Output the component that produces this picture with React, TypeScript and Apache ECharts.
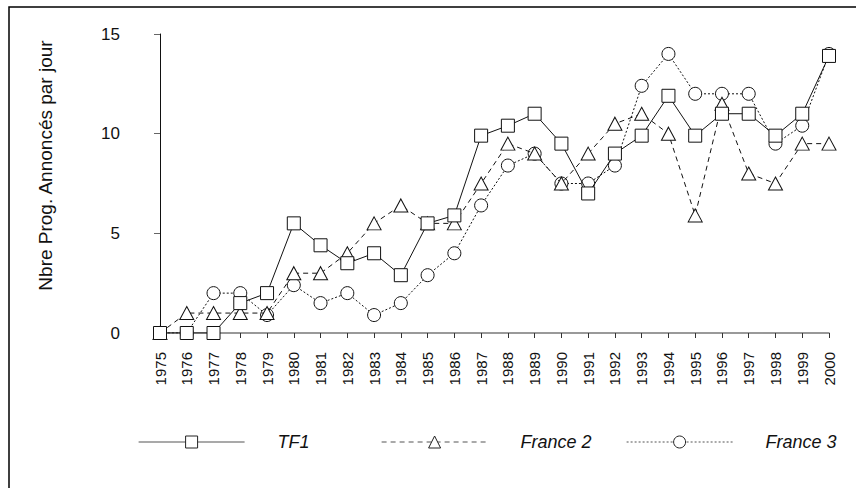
import React, { useEffect, useRef } from 'react';
import * as echarts from 'echarts';

const years = ['1975','1976','1977','1978','1979','1980','1981','1982','1983','1984','1985','1986','1987','1988','1989','1990','1991','1992','1993','1994','1995','1996','1997','1998','1999','2000'];
const tf1 = [0,0,0,1.5,2,5.5,4.4,3.5,4,2.9,5.5,5.9,9.9,10.4,11,9.5,7,9,9.9,11.9,9.9,11,11,9.9,11,13.9];
const france2 = [0,1,1,1,1,3,3,4,5.5,6.4,5.5,5.5,7.5,9.5,9,7.5,9,10.5,11,10,5.9,11.5,8,7.5,9.5,9.5];
const france3 = [0,0,2,2,0.9,2.4,1.5,2,0.9,1.5,2.9,4,6.4,8.4,9,7.5,7.5,8.4,12.4,14,12,12,12,9.5,10.4,14];
const seriesNames = ['TF1', 'France 2', 'France 3'];
const yTitle = 'Nbre Prog. Annoncés par jour';

const FONT = '"Liberation Sans", Arial, sans-serif';

export default function App() {
  const ref = useRef<HTMLDivElement>(null);
  useEffect(() => {
    if (!ref.current) return;
    const chart = echarts.init(ref.current, undefined, { renderer: 'svg' });
    const legendCommon = {
      top: 433,
      padding: 0,
      itemWidth: 106,
      itemHeight: 15,
      selectedMode: false,
      textStyle: { fontFamily: FONT, fontStyle: 'italic', fontSize: 18, color: '#111', padding: [0, 0, 0, 28] },
      itemStyle: { color: '#fff', borderColor: '#222', borderWidth: 1 },
    };
    const mk = (name: string, data: number[], symbol: string, size: any, dash: any, z: number) => ({
      name,
      type: 'line',
      data,
      symbol,
      symbolSize: size,
      showAllSymbol: true,
      z,
      silent: true,
      lineStyle: { color: '#111', width: 1, type: dash },
      itemStyle: { color: '#fff', borderColor: '#111', borderWidth: 1 },
      emphasis: { disabled: true },
    });
    chart.setOption({
      animation: false,
      backgroundColor: '#fff',
      textStyle: { fontFamily: FONT },
      graphic: [
        { type: 'rect', shape: { x: 9, y: 7, width: 1000, height: 1000 }, style: { fill: 'none', stroke: '#000', lineWidth: 1.5 }, silent: true },
      ],
      legend: [
        { ...legendCommon, left: 138, data: [seriesNames[0]], lineStyle: { color: '#555', width: 1.2, type: 'solid' } },
        { ...legendCommon, left: 381, data: [seriesNames[1]], lineStyle: { color: '#555', width: 1.2, type: [5, 4] } },
        { ...legendCommon, left: 626, data: [seriesNames[2]], lineStyle: { color: '#555', width: 1.2, type: [2, 2] } },
      ],
      grid: { left: 160, right: 27, top: 34, bottom: 155, containLabel: false },
      xAxis: {
        type: 'category',
        data: years,
        boundaryGap: false,
        axisLine: { lineStyle: { color: '#777', width: 1.5 } },
        axisTick: { alignWithLabel: true, length: 5, lineStyle: { color: '#333' } },
        axisLabel: { rotate: 90, margin: 19, fontSize: 15, color: '#111', fontFamily: FONT, interval: 0 },
        splitLine: { show: false },
      },
      yAxis: {
        type: 'value',
        min: 0,
        max: 15,
        interval: 5,
        axisLine: { show: true, lineStyle: { color: '#111', width: 1 } },
        axisTick: { show: true, length: 6, lineStyle: { color: '#666' } },
        splitLine: { show: false },
        axisLabel: { margin: 40, fontSize: 17, color: '#111', fontFamily: FONT },
        name: yTitle,
        nameLocation: 'middle',
        nameGap: 105,
        nameTextStyle: { fontSize: 19, color: '#111', fontFamily: FONT, padding: [0, 0, 0, 36] },
      },
      series: [
        mk(seriesNames[0], tf1, 'rect', 13, 'solid', 4),
        mk(seriesNames[1], france2, 'triangle', [14, 13], [5, 4], 3),
        mk(seriesNames[2], france3, 'circle', 13, [2, 2], 2),
      ],
    });
    return () => chart.dispose();
  }, []);
  return <div ref={ref} style={{ position: 'absolute', left: 0, top: 0, width: 856, height: 488 }} />;
}
